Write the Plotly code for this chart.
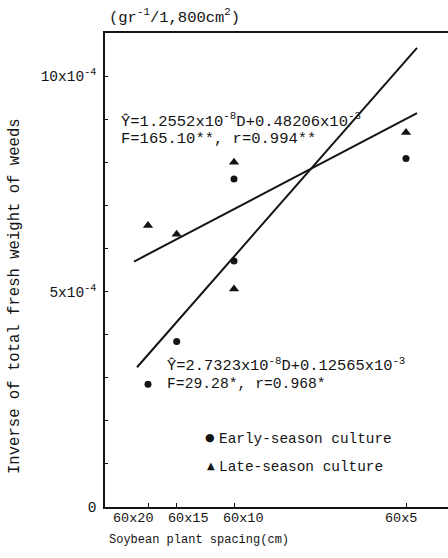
import plotly.graph_objects as go

# Soybean plant spacing and the matching plant density (plants per 10 a)
spacing_labels = ["60x20", "60x15", "60x10", "60x5"]
spacing_density = [8333, 11111, 16667, 33333]

# Inverse of total fresh weight of weeds (gr^-1 / 1,800 cm2)
early_density = [8333, 11111, 16667, 16667, 33333]
early_inverse = [2.85e-4, 3.84e-4, 5.71e-4, 7.61e-4, 8.09e-4]
late_density = [8333, 11111, 16667, 16667, 33333]
late_inverse = [6.53e-4, 6.33e-4, 5.06e-4, 8.00e-4, 8.69e-4]

# Regression lines  Y = a*D + b
early_fit = (2.7323e-8, 0.12565e-3)
late_fit = (1.2552e-8, 0.48206e-3)
early_fit_span = [7270, 34400]
late_fit_span = [6980, 34400]

y_tick_values = [0, 5e-4, 10e-4]
y_tick_text = ["0", "5x10<sup>-4</sup>", "10x10<sup>-4</sup>"]
y_minor_step = 1e-4

INK = "#141414"
MONO = "Liberation Mono, Courier New, monospace"

W, H = 448, 558
L, R, T, B = 105, 0, 33, 51
PW, PH = W - L - R, H - T - B


def px(x):
    return (x - L) / PW


def py(y):
    return (H - B - y) / PH


def fit_line(fit, span):
    a, b = fit
    return span, [a * d + b for d in span]


fig = go.Figure()

ex, ey = fit_line(early_fit, early_fit_span)
lx, ly = fit_line(late_fit, late_fit_span)
for xs, ys in ((ex, ey), (lx, ly)):
    fig.add_trace(go.Scatter(x=xs, y=ys, mode="lines",
                             line=dict(color=INK, width=2), showlegend=False))

fig.add_trace(go.Scatter(x=early_density, y=early_inverse, mode="markers",
                         marker=dict(symbol="circle", size=7, color=INK),
                         name="Early-season culture", showlegend=False))
fig.add_trace(go.Scatter(x=late_density, y=late_inverse, mode="markers",
                         marker=dict(symbol="triangle-up", size=9, color=INK),
                         name="Late-season culture", showlegend=False))

ann = []


def text(x, y, s, size, xanchor="left", **kw):
    ann.append(dict(x=px(x), y=py(y), xref="paper", yref="paper", text=s,
                    showarrow=False, xanchor=xanchor, yanchor="middle",
                    font=dict(family=MONO, size=size, color=INK), **kw))


# regression equations
text(119, 121, "Ŷ=1.2552x10<sup>-8</sup>D+0.48206x10<sup>-3</sup>", 15.5)
text(119, 139, "F=165.10**, r=0.994**", 15.5)
text(165, 365, "Ŷ=2.7323x10<sup>-8</sup>D+0.12565x10<sup>-3</sup>", 15.4)
text(165, 384, "F=29.28*, r=0.968*", 14.7)

# legend
ann.append(dict(x=px(210), y=py(437), xref="paper", yref="paper", text="●",
                showarrow=False, xanchor="center", yanchor="middle",
                font=dict(family="DejaVu Sans", size=11, color=INK)))
ann.append(dict(x=px(211), y=py(465), xref="paper", yref="paper", text="▲",
                showarrow=False, xanchor="center", yanchor="middle",
                font=dict(family="DejaVu Sans", size=10, color=INK)))
text(217, 439, "Early-season culture", 14.4)
text(217, 467, "Late-season culture", 14.4)

# unit and axis titles
text(107, 16, "(gr<sup>-1</sup>/1,800cm<sup>2</sup>)", 15.5)
text(199, 540, "Soybean plant spacing(cm)", 12, xanchor="center")
text(15, 296, "Inverse of total fresh weight of weeds", 15.6, xanchor="center", textangle=-90)

# spacing labels under the x axis
label_shift = [-15, 12, 9, -5]
for lab, d, sh in zip(spacing_labels, spacing_density, label_shift):
    ann.append(dict(x=d, y=0, xref="x", yref="paper", text=lab, showarrow=False,
                    xanchor="center", yanchor="middle", xshift=sh, yshift=-11,
                    font=dict(family=MONO, size=13.5, color=INK)))

fig.update_layout(
    width=W, height=H,
    margin=dict(l=L, r=R, t=T, b=B, pad=0),
    paper_bgcolor="white", plot_bgcolor="white",
    showlegend=False,
    annotations=ann,
    xaxis=dict(range=[4166, 37402], showgrid=False, zeroline=False,
               showline=True, linecolor=INK, linewidth=1.5, mirror=True,
               tickvals=spacing_density, ticks="inside", ticklen=4,
               tickwidth=1.2, tickcolor=INK, showticklabels=False),
    yaxis=dict(range=[0, 11.0e-4], showgrid=False, zeroline=False,
               showline=True, linecolor=INK, linewidth=1.5,
               tickvals=y_tick_values, ticktext=y_tick_text,
               ticks="inside", ticklen=3, tickwidth=1.2, tickcolor=INK,
               minor=dict(dtick=y_minor_step, tick0=0, ticks="inside",
                          ticklen=3, tickwidth=1.2, tickcolor=INK,
                          showgrid=False),
               ticklabelstandoff=4,
               tickfont=dict(family=MONO, size=14.5, color=INK)),
)

fig.write_html("out.html")
